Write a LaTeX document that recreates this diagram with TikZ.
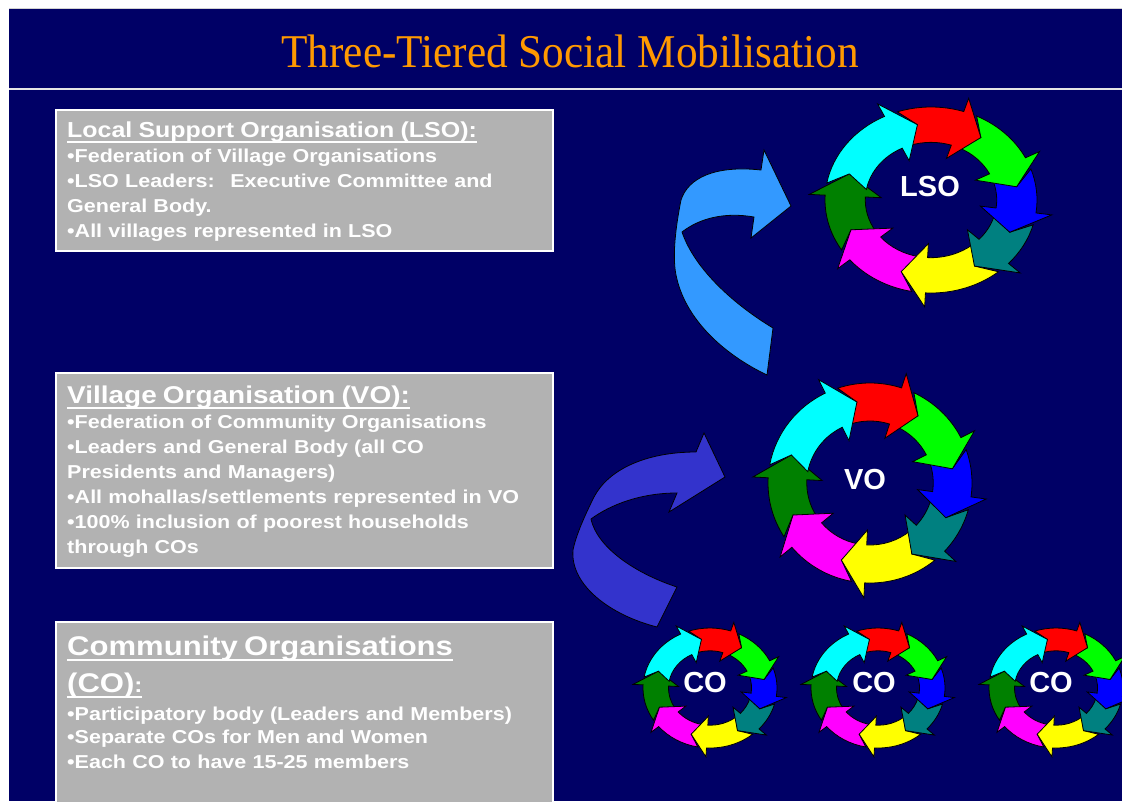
\documentclass[tikz,border=0pt]{standalone}
\usepackage{fontspec}
\usepackage{tikz}
\usetikzlibrary{positioning,calc}
\setmainfont{Liberation Sans}
\newfontfamily\titlefont{Liberation Serif}[FakeStretch=0.92]
\newfontfamily\boxfont{Liberation Sans}[FakeStretch=1.15]

% underlined headings: a 2pt bar 3.5pt under the baseline
\newsavebox\ulbox
\newcommand\ulbar[1]{\leavevmode\sbox\ulbox{#1}\rlap{\rule[-5.5pt]{\wd\ulbox}{2pt}}\usebox\ulbox}

\definecolor{navy}{HTML}{000066}
\definecolor{slidegold}{HTML}{FF9900}
\definecolor{panelgrey}{HTML}{B2B2B2}
\definecolor{sky}{HTML}{3399FF}
\definecolor{indigo}{HTML}{3333CC}
\definecolor{ringcyan}{HTML}{00FFFF}
\definecolor{ringred}{HTML}{FF0000}
\definecolor{ringgreen}{HTML}{00FF00}
\definecolor{ringblue}{HTML}{0000FF}
\definecolor{ringteal}{HTML}{008080}
\definecolor{ringyellow}{HTML}{FFFF00}
\definecolor{ringmagenta}{HTML}{FF00FF}
\definecolor{ringdkgreen}{HTML}{008000}

% eight notched arrows chasing each other round an ellipse (unit radius = x/y vectors)
\tikzset{
  cycle ring/.pic={
    \foreach \tip/\prev/\col in {-200/-157/ringdkgreen,-157/-110/ringmagenta,-110/-60/ringyellow,
        -60/-25/ringteal,-25/10/ringblue,10/55/ringgreen,55/99/ringred,99/160/ringcyan}{
      \pgfmathsetmacro{\s}{\prev+17}
      \pgfmathsetmacro{\b}{\tip+17}
      \filldraw[fill=\col,draw=black,line width=0.8pt]
        (\s-7.5:1) arc[start angle=\s-7.5,end angle=\b,radius=1]
        -- (\b:1.15) -- (\tip:0.82) -- (\b:0.47) -- (\b:0.62)
        arc[start angle=\b,end angle=\s-7.5,radius=0.62]
        -- (\prev:0.82) -- cycle;
    }
  }
}

\begin{document}
\begin{tikzpicture}[x=1pt,y=-1pt,
  panel/.style={draw=white,line width=2pt,fill=panelgrey,anchor=north west,inner sep=0pt,minimum width=497pt},
  paneltext/.style={anchor=base west,text width=485pt,align=left,inner sep=0pt,text=white,
    font=\boxfont\bfseries\fontsize{18.7}{25}\selectfont},
  ringlabel/.style={text=white,inner sep=0pt,font=\bfseries\fontsize{29}{29}\selectfont},
  ribbon/.style={draw=black,line width=0.8pt}
]
\useasboundingbox (0,0) rectangle (1122,801);
\begin{scope}
\clip (0,0) rectangle (1122,801);

% slide background and title band
\fill[white] (0,0) rectangle (1122,801);
\fill[navy] (9,9) rectangle (1122,801);
\draw[gray!35,line width=1pt] (9,8.5) -- (1122,8.5);
\draw[white!80!gray,line width=2pt] (9,88.5) -- (1122,88.5);
\node[font=\titlefont\fontsize{47}{50}\selectfont,text=slidegold,anchor=base,inner sep=0pt] (title) at (570,67) {Three-Tiered Social Mobilisation};

% text panels
\node[panel,minimum height=141pt] (lsobox) at (55,109) {};
\node[paneltext] (lsotext) at (67,137) {{\fontsize{21.7}{25}\selectfont\ulbar{Local Support Organisation (LSO):}\par}
  •Federation of Village Organisations\\
  •LSO Leaders:~ Executive Committee and\\
  General Body.\\
  •All villages represented in LSO};

\node[panel,minimum height=195pt] (vobox) at (55,372) {};
\node[paneltext] (votext) at (67,403) {{\fontsize{24.3}{25}\selectfont\ulbar{Village Organisation (VO):}\par}
  •Federation of Community Organisations\\
  •Leaders and General Body (all CO\\
  Presidents and Managers)\\
  •All mohallas/settlements represented in VO\\
  •100\% inclusion of poorest households\\
  through COs};

\node[panel,minimum height=200pt] (cobox) at (55,621) {};
\node[paneltext] (cotext) at (67,655) {{\fontsize{27}{37}\selectfont\ulbar{Community Organisations}\\
  \ulbar{(CO)}{\fontsize{21}{37}\selectfont\ulbar{:}}\par}
  \vspace{5pt}\fontsize{18.7}{23}\selectfont
  •Participatory body (Leaders and Members)\\
  •Separate COs for Men and Women\\
  •Each CO to have 15-25 members};

% twisted ribbon arrows between the tiers
\filldraw[ribbon,fill=sky] (767,375) -- (773,328)
  .. controls (735,305) and (695,270) .. (682,232)
  .. controls (700,218) and (725,212) .. (754,217)
  -- (751,238) -- (791,206) -- (764,150) -- (761,170)
  .. controls (715,165) and (688,178) .. (681,200)
  .. controls (676,225) and (672,255) .. (676,275)
  .. controls (685,320) and (725,355) .. (767,375) -- cycle;
\filldraw[ribbon,fill=indigo] (657,627) -- (677,587)
  .. controls (640,575) and (598,550) .. (591,519)
  .. controls (610,505) and (640,493) .. (677,493)
  -- (669,512) -- (725,477) -- (704,433) -- (696,452)
  .. controls (645,452) and (608,470) .. (594,497)
  .. controls (585,515) and (576,535) .. (573,550)
  .. controls (570,585) and (610,615) .. (657,627) -- cycle;

% the tiers
\path (931,200) pic[x=106pt,y=93pt] {cycle ring};
\path (870,483) pic[x=102pt,y=100pt] {cycle ring};
\path (710,688) pic[x=67pt,y=60pt] {cycle ring};
\path (878,688) pic[x=67pt,y=60pt] {cycle ring};
\path (1056,688) pic[x=67pt,y=60pt] {cycle ring};

\node[ringlabel] (lso) at (930,187) {LSO};
\node[ringlabel] (vo) at (865,480) {VO};
\node[ringlabel] (co1) at (705,683) {CO};
\node[ringlabel] (co2) at (874,683) {CO};
\node[ringlabel] (co3) at (1051,683) {CO};
\end{scope}
\end{tikzpicture}
\end{document}
